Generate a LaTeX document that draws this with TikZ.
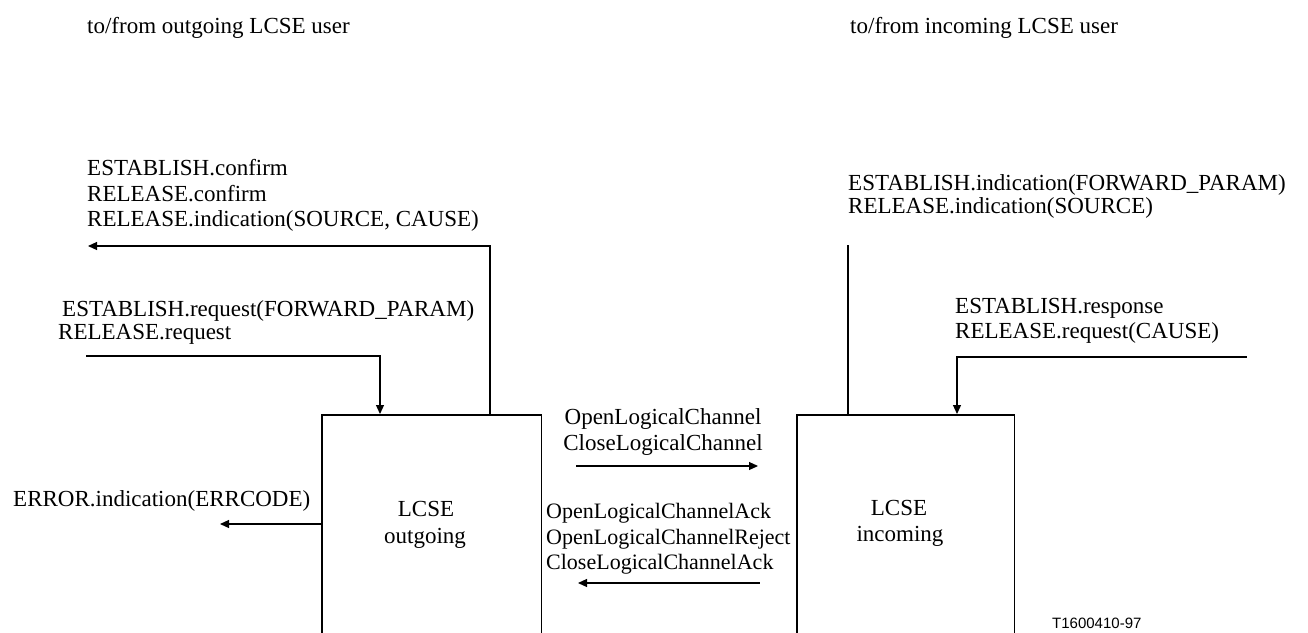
\documentclass[tikz,border=0pt]{standalone}
\usepackage{fontspec}
\setmainfont{Liberation Serif}
\newfontfamily\figsans{Liberation Sans}
\usetikzlibrary{arrows.meta}
\begin{document}
\begin{tikzpicture}[x=1pt,y=-1pt,
  txt/.style={inner sep=0pt,anchor=west,font=\fontsize{23}{26}\selectfont,text height=16pt,text depth=0pt},
  txts/.style={txt,font=\fontsize{22}{25}\selectfont},
  ctxt/.style={txt,anchor=center},
  conn/.style={line width=1.2pt,line cap=rect},
  arr/.style={conn,-{Triangle[length=9pt,width=8pt]}},
  boxarea/.style={inner sep=0pt,anchor=north west,draw=none}
]
\useasboundingbox (0,0) rectangle (1308,632);
\fill[white] (0,0) rectangle (1308,632);

% top captions
\node[txt] (capL) at (87,25) {to/from outgoing LCSE user};
\node[txt] (capR) at (850,25) {to/from incoming LCSE user};

% boxes (open at the bottom)
\node[boxarea,minimum width=219pt,minimum height=222pt] (out) at (322,415) {};
\node[boxarea,minimum width=217pt,minimum height=222pt] (inc) at (797,415) {};
\draw[conn] (out.south west) -- (out.north west) -- (out.north east) -- (out.south east);
\draw[conn] (inc.south west) -- (inc.north west) -- (inc.north east) -- (inc.south east);
\node[ctxt] (outA) at (426,508) {LCSE};
\node[ctxt] (outB) at (425,535) {outgoing};
\node[ctxt] (incA) at (899,507) {LCSE};
\node[ctxt] (incB) at (900,533) {incoming};

% left upper group
\node[txt] (lc1) at (87,167) {ESTABLISH.confirm};
\node[txt] (lc2) at (87,193) {RELEASE.confirm};
\node[txt] (lc3) at (87,218) {RELEASE.indication(SOURCE, CAUSE)};
\coordinate (outUp) at (490,415);
\coordinate (outUpBend) at (490,246);
\coordinate (outUpEnd) at (88,246);
\draw[arr] (outUp) -- (outUpBend) -- (outUpEnd);

% left request group
\node[txt] (lr1) at (62,308) {ESTABLISH.request(FORWARD\_PARAM)};
\node[txt] (lr2) at (58,331) {RELEASE.request};
\coordinate (reqStart) at (87,356);
\coordinate (reqBend) at (380,356);
\coordinate (reqEnd) at (380,414);
\draw[arr] (reqStart) -- (reqBend) -- (reqEnd);

% error
\node[txt] (err) at (13,498) {ERROR.indication(ERRCODE)};
\coordinate (errStart) at (322,524);
\coordinate (errEnd) at (220,524);
\draw[arr] (errStart) -- (errEnd);

% middle
\node[ctxt] (m1) at (663,416) {OpenLogicalChannel};
\node[ctxt] (m2) at (663,442) {CloseLogicalChannel};
\coordinate (fwdS) at (577,466);
\coordinate (fwdE) at (758,466);
\draw[arr] (fwdS) -- (fwdE);
\node[txts] (b1) at (546,510) {OpenLogicalChannelAck};
\node[txts] (b2) at (546,536) {OpenLogicalChannelReject};
\node[txts] (b3) at (546,561) {CloseLogicalChannelAck};
\coordinate (bckS) at (759,583);
\coordinate (bckE) at (578,583);
\draw[arr] (bckS) -- (bckE);

% right upper group
\node[txt] (ri1) at (848,182) {ESTABLISH.indication(FORWARD\_PARAM)};
\node[txt] (ri2) at (848,205) {RELEASE.indication(SOURCE)};
\coordinate (incUp) at (848,415);
\coordinate (incUpEnd) at (848,246);
\draw[conn] (incUp) -- (incUpEnd);

% right response group
\node[txt] (rr1) at (955,305) {ESTABLISH.response};
\node[txt] (rr2) at (955,330) {RELEASE.request(CAUSE)};
\coordinate (rspStart) at (1246,357);
\coordinate (rspBend) at (957,357);
\coordinate (rspEnd) at (957,414);
\draw[arr] (rspStart) -- (rspBend) -- (rspEnd);

% figure id
\node[inner sep=0pt,anchor=west,font=\figsans\fontsize{15}{17}\selectfont] (fid) at (1052,623) {T1600410-97};
\end{tikzpicture}
\end{document}
